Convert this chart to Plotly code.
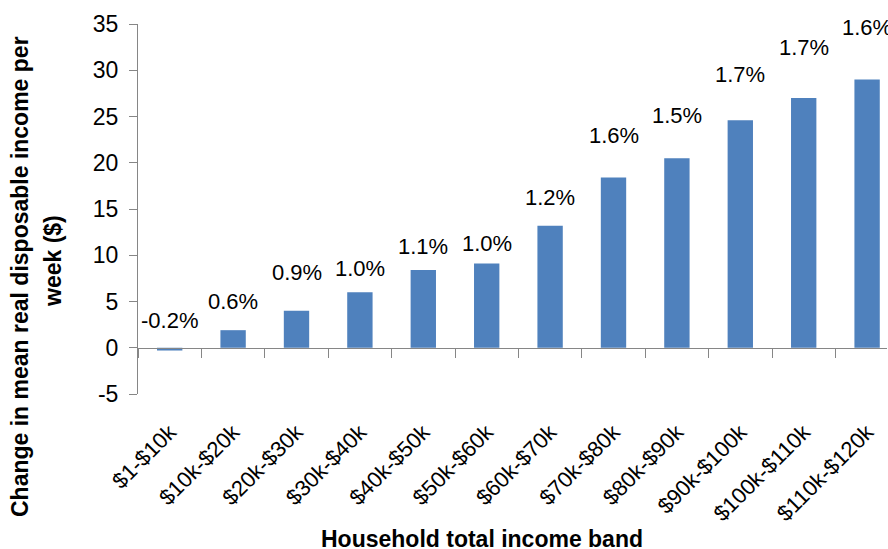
import plotly.graph_objects as go

categories = ["$1-$10k", "$10k-$20k", "$20k-$30k", "$30k-$40k", "$40k-$50k", "$50k-$60k",
              "$60k-$70k", "$70k-$80k", "$80k-$90k", "$90k-$100k", "$100k-$110k", "$110k-$120k"]
change_dollars = [-0.3, 1.9, 4.0, 6.0, 8.4, 9.1, 13.2, 18.4, 20.5, 24.6, 27.0, 29.0]
change_pct_labels = ["-0.2%", "0.6%", "0.9%", "1.0%", "1.1%", "1.0%",
                     "1.2%", "1.6%", "1.5%", "1.7%", "1.7%", "1.6%"]
label_height = [3.0, 5.0, 8.1, 8.6, 11.0, 11.3, 16.2, 22.9, 25.1, 29.5, 32.5, 34.6]
y_ticks = [-5, 0, 5, 10, 15, 20, 25, 30, 35]

FONT = "Liberation Sans"
AXIS_GRAY = "#868686"
BAR_BLUE = "#4F81BD"

n = len(categories)
x_idx = list(range(n))

fig = go.Figure()
fig.add_trace(go.Bar(
    x=x_idx, y=change_dollars,
    marker=dict(color=BAR_BLUE, line=dict(width=0)),
    width=0.4, showlegend=False, hoverinfo="skip",
))

for i, (t, h) in enumerate(zip(change_pct_labels, label_height)):
    fig.add_annotation(x=i, y=h, xref="x", yref="y", text=t, showarrow=False,
                       font=dict(family=FONT, size=22, color="black"))

# plot area: left edge 138 px, category pitch ~63.4 px (last column runs past the page edge)
x_end = -0.5 + 749 / 63.4

fig.update_layout(
    width=888, height=549,
    margin=dict(l=138, r=1, t=24, b=155),
    plot_bgcolor="white", paper_bgcolor="white",
    font=dict(family=FONT, color="black"),
    xaxis=dict(
        range=[-0.5, x_end], tickmode="array",
        tickvals=x_idx, ticktext=categories,
        tickangle=-45, ticks="", showline=False, showgrid=False, zeroline=False,
        tickfont=dict(family=FONT, size=22, color="black"),
        ticklabelstandoff=20,
    ),
    xaxis2=dict(
        overlaying="x", anchor="free", position=5 / 40, side="bottom",
        range=[-0.5, x_end], tickmode="array",
        tickvals=[i - 0.5 for i in range(n + 1)],
        showticklabels=False, ticks="outside", ticklen=9, tickcolor=AXIS_GRAY,
        showline=True, linecolor=AXIS_GRAY, linewidth=1, showgrid=False, zeroline=False,
    ),
    yaxis=dict(
        range=[-5, 35], tickmode="array", tickvals=y_ticks,
        ticktext=[str(v) for v in y_ticks],
        showgrid=False, zeroline=False,
        showline=True, linecolor=AXIS_GRAY, linewidth=1,
        ticks="outside", ticklen=8, tickcolor=AXIS_GRAY,
        tickfont=dict(family=FONT, size=23, color="black"),
        ticklabelstandoff=6,
    ),
)

# invisible trace so the zero-line category axis is drawn
fig.add_trace(go.Scatter(x=[0], y=[0], xaxis="x2", mode="markers",
                         marker=dict(opacity=0), showlegend=False, hoverinfo="skip"))

PW, PH, L, T = 749, 370, 138, 24
def px(xp): return (xp - L) / PW
def py(yp): return (T + PH - yp) / PH

fig.add_annotation(text="<b>Change in mean real disposable income per</b>",
                   xref="paper", yref="paper", x=px(20), y=py(277),
                   xanchor="center", yanchor="middle", textangle=-90, showarrow=False,
                   font=dict(family=FONT, size=23, color="black"))
fig.add_annotation(text="<b>week ($)</b>",
                   xref="paper", yref="paper", x=px(53), y=py(261),
                   xanchor="center", yanchor="middle", textangle=-90, showarrow=False,
                   font=dict(family=FONT, size=23, color="black"))
fig.add_annotation(text="<b>Household total income band</b>",
                   xref="paper", yref="paper", x=px(482), y=py(539),
                   xanchor="center", yanchor="middle", showarrow=False,
                   font=dict(family=FONT, size=23, color="black"))

fig.write_html("out.html")
